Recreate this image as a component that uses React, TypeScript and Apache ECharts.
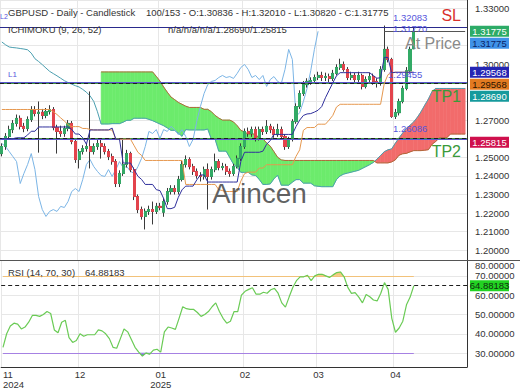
import React, { useEffect, useRef } from 'react';
import * as echarts from 'echarts';

const FONT = "'Liberation Sans', Arial, Helvetica, sans-serif";
const SLOT_COUNT = 127;

const opens = [1.2520,1.2558,1.2612,1.2649,1.2682,1.2709,1.2666,1.2655,1.2703,1.2757, 1.2736,1.2742,1.2725,1.2746,1.2757,1.2660,1.2639,1.2628,1.2655,1.2682, 1.2585,1.2488,1.2531,1.2547,1.2558,1.2531,1.2558,1.2574,1.2558,1.2531, 1.2504,1.2477,1.2359,1.2413,1.2461,1.2520,1.2434,1.2289,1.2219,1.2182, 1.2209,1.2219,1.2209,1.2236,1.2205,1.2262,1.2316,1.2332,1.2316,1.2381, 1.2461,1.2488,1.2450,1.2424,1.2402,1.2397,1.2434,1.2397,1.2434,1.2477, 1.2445,1.2450,1.2424,1.2413,1.2450,1.2494,1.2558,1.2639,1.2628,1.2649, 1.2601,1.2649,1.2639,1.2666,1.2649,1.2622,1.2649,1.2612,1.2558,1.2596, 1.2692,1.2773,1.2843,1.2891,1.2908,1.2913,1.2929,1.2940,1.2929,1.2934, 1.2924,1.2951,1.2983,1.2999,1.2972,1.2929,1.2940,1.2918,1.2940,1.2881, 1.2918,1.2934,1.2908,1.2897,1.2972,1.3080,1.3026,1.2720,1.2740,1.2800, 1.2870,1.2965,1.30836];
const highs = [1.2575,1.2630,1.2670,1.2700,1.2730,1.2725,1.2685,1.2720,1.2775,1.2775, 1.2800,1.2760,1.2765,1.2780,1.2770,1.2675,1.2670,1.2670,1.2700,1.2695, 1.2600,1.2545,1.2565,1.2575,1.2854,1.2575,1.2595,1.2596,1.2575,1.2545, 1.2520,1.2490,1.2430,1.2596,1.2540,1.2530,1.2445,1.2300,1.2235,1.2225, 1.2240,1.2262,1.2255,1.2255,1.2280,1.2335,1.2350,1.2350,1.2400,1.2480, 1.2510,1.2500,1.2465,1.2440,1.2420,1.2450,1.2467,1.2450,1.2520,1.2490, 1.2470,1.2465,1.2440,1.2465,1.2510,1.2575,1.2655,1.2660,1.2665,1.2665, 1.2665,1.2665,1.2700,1.2680,1.2665,1.2680,1.2665,1.2625,1.2610,1.2705, 1.2790,1.2860,1.2910,1.2925,1.2930,1.2945,1.2960,1.2960,1.2955,1.2950, 1.2970,1.3000,1.3030,1.3015,1.2985,1.2960,1.2955,1.2960,1.2950,1.2935, 1.2955,1.2950,1.2925,1.2990,1.32083,1.3095,1.3035,1.2760,1.2815,1.2885, 1.2985,1.3095,1.32010];
const lows = [1.2505,1.2540,1.2595,1.2630,1.2665,1.2650,1.2635,1.2640,1.2690,1.2720, 1.2525,1.2705,1.2710,1.2730,1.2645,1.2520,1.2610,1.2610,1.2640,1.2570, 1.2470,1.2440,1.2515,1.2530,1.2440,1.2515,1.2540,1.2493,1.2515,1.2485, 1.2460,1.2340,1.2340,1.2400,1.2445,1.2420,1.2270,1.2200,1.2165,1.2112, 1.2190,1.2139,1.2195,1.2215,1.2180,1.2245,1.2300,1.2300,1.2300,1.2370, 1.2445,1.2435,1.2405,1.2385,1.2370,1.2380,1.2219,1.2380,1.2420,1.2430, 1.2430,1.2405,1.2395,1.2400,1.2440,1.2480,1.2545,1.2610,1.2610,1.2585, 1.2590,1.2620,1.2625,1.2630,1.2605,1.2610,1.2595,1.2540,1.2545,1.2585, 1.2680,1.2760,1.2830,1.2875,1.2890,1.2895,1.2915,1.2910,1.2910,1.2905, 1.2910,1.2940,1.2970,1.2960,1.2915,1.2915,1.2900,1.2905,1.2865,1.2870, 1.2905,1.2890,1.2875,1.2885,1.2960,1.3010,1.2712,1.2706,1.2725,1.2790, 1.2860,1.2950,1.30820];
const closes = [1.2558,1.2612,1.2649,1.2682,1.2709,1.2666,1.2655,1.2703,1.2757,1.2736, 1.2742,1.2725,1.2746,1.2757,1.2660,1.2639,1.2628,1.2655,1.2682,1.2585, 1.2488,1.2531,1.2547,1.2558,1.2531,1.2558,1.2574,1.2558,1.2531,1.2504, 1.2477,1.2359,1.2413,1.2461,1.2520,1.2434,1.2289,1.2219,1.2182,1.2209, 1.2219,1.2209,1.2236,1.2230,1.2262,1.2316,1.2332,1.2316,1.2381,1.2461, 1.2488,1.2450,1.2424,1.2402,1.2397,1.2434,1.2397,1.2434,1.2477,1.2445, 1.2450,1.2424,1.2413,1.2450,1.2494,1.2558,1.2639,1.2628,1.2649,1.2601, 1.2649,1.2639,1.2666,1.2649,1.2622,1.2649,1.2612,1.2558,1.2596,1.2692, 1.2773,1.2843,1.2891,1.2908,1.2913,1.2929,1.2940,1.2929,1.2934,1.2924, 1.2951,1.2983,1.2999,1.2972,1.2929,1.2940,1.2918,1.2940,1.2881,1.2918, 1.2934,1.2908,1.2897,1.2972,1.3080,1.3026,1.2720,1.2740,1.2800,1.2870, 1.2965,1.3080,1.31775];

const tenkan = [1.2600,1.2600,1.2600,1.2600,1.2605,1.2605,1.2605,1.2620,1.2640,1.2640, 1.2663,1.2663,1.2663,1.2663,1.2663,1.2663,1.2663,1.2663,1.2663,1.2650, 1.2625,1.2625,1.2605,1.2570,1.2647,1.2647,1.2647,1.2647,1.2647,1.2647, 1.2657,1.2597,1.2597,1.2469,1.2469,1.2469,1.2433,1.2398,1.2381,1.2354, 1.2354,1.2354,1.2326,1.2321,1.2279,1.2224,1.2224,1.2231,1.2285,1.2325, 1.2345,1.2345,1.2345,1.2378,1.2405,1.2405,1.2367,1.2367,1.2367,1.2367, 1.2367,1.2367,1.2367,1.2367,1.2367,1.2478,1.2527,1.2527,1.2527,1.2527, 1.2527,1.2533,1.2570,1.2590,1.2623,1.2623,1.2623,1.2623,1.2623,1.2623, 1.2665,1.2700,1.2725,1.2733,1.2735,1.2743,1.2753,1.2773,1.2820,1.2860, 1.2900,1.2938,1.2955,1.2955,1.2955,1.2955,1.2955,1.2955,1.2955,1.2955, 1.2955,1.2940,1.2925,1.2928,1.3037,1.3037,1.2954,1.2957,1.2957,1.2957, 1.2957,1.2957,1.2957];
const kijun = [1.2757,1.2757,1.2757,1.2757,1.2757,1.2757,1.2757,1.2757,1.2757,1.2757, 1.2757,1.2757,1.2757,1.2757,1.2745,1.2730,1.2712,1.2695,1.2676,1.2665, 1.2665,1.2665,1.2655,1.2655,1.2650,1.2647,1.2647,1.2647,1.2647,1.2647, 1.2647,1.2597,1.2597,1.2597,1.2597,1.2597,1.2562,1.2527,1.2510,1.2483, 1.2483,1.2483,1.2483,1.2483,1.2483,1.2483,1.2483,1.2483,1.2483,1.2483, 1.2354,1.2354,1.2354,1.2354,1.2354,1.2354,1.2354,1.2354,1.2354,1.2326, 1.2321,1.2316,1.2316,1.2316,1.2316,1.2372,1.2412,1.2420,1.2420,1.2420, 1.2442,1.2442,1.2460,1.2460,1.2460,1.2460,1.2460,1.2460,1.2460,1.2460, 1.2505,1.2540,1.2645,1.2660,1.2660,1.2660,1.2678,1.2678,1.2678,1.2700, 1.2725,1.2770,1.2785,1.2785,1.2785,1.2785,1.2785,1.2785,1.2785,1.2785, 1.2785,1.2785,1.2785,1.2785,1.2897,1.2944,1.2954,1.2957,1.2957,1.2957, 1.2957,1.2957,1.2957];
const senkouA = [1.3120,1.3105,1.3093,1.3090,1.3088,1.3085,1.3082,1.3078,1.3060,1.3030, 1.3015,1.2998,1.2980,1.2962,1.2950,1.2938,1.2925,1.2912,1.2902,1.2893, 1.2885,1.2878,1.2865,1.2850,1.2830,1.2800,1.2745,1.2679,1.2679,1.2679, 1.2681,1.2681,1.2681,1.2689,1.2699,1.2699,1.2710,1.2710,1.2710,1.2710, 1.2704,1.2697,1.2688,1.2679,1.2670,1.2658,1.2645,1.2645,1.2630,1.2613, 1.2649,1.2647,1.2647,1.2647,1.2647,1.2647,1.2652,1.2597,1.2597,1.2533, 1.2533,1.2533,1.2498,1.2463,1.2446,1.2419,1.2419,1.2419,1.2405,1.2402, 1.2381,1.2354,1.2354,1.2357,1.2384,1.2404,1.2350,1.2350,1.2350,1.2366, 1.2380,1.2380,1.2361,1.2361,1.2361,1.2347,1.2344,1.2342,1.2342,1.2342, 1.2342,1.2380,1.2400,1.2410,1.2415,1.2420,1.2425,1.2430,1.2440,1.2450, 1.2460,1.2472,1.2490,1.2510,1.2530,1.2540,1.2545,1.2575,1.2604,1.2630, 1.2655,1.2672,1.2690,1.2715,1.2745,1.2780,1.2813,1.2854,1.2870,1.2870, 1.2870,1.2870,1.2870,1.2870,1.2870,1.2870,1.2870];
const senkouB = [null,null,null,null,null,null,null,null,null,null, null,null,null,null,null,null,null,null,null,null, null,null,null,null,null,null,null,1.2959,1.2959,1.2959, 1.2959,1.2959,1.2959,1.2959,1.2959,1.2959,1.2959,1.2959,1.2959,1.2959, 1.2959,1.2959,1.2935,1.2910,1.2878,1.2850,1.2824,1.2810,1.2795,1.2785, 1.2775,1.2768,1.2768,1.2768,1.2768,1.2758,1.2758,1.2745,1.2725,1.2711, 1.2700,1.2700,1.2700,1.2690,1.2670,1.2645,1.2636,1.2625,1.2625,1.2625, 1.2600,1.2600,1.2577,1.2560,1.2530,1.2500,1.2486,1.2483,1.2483,1.2483, 1.2483,1.2483,1.2483,1.2483,1.2483,1.2483,1.2483,1.2483,1.2483,1.2483, 1.2483,1.2483,1.2483,1.2483,1.2483,1.2483,1.2483,1.2483,1.2483,1.2483, 1.2483,1.2483,1.2470,1.2470,1.2470,1.2470,1.2475,1.2486,1.2511,1.2519, 1.2521,1.2529,1.2536,1.2536,1.2536,1.2538,1.2541,1.2570,1.2585,1.2605, 1.2605,1.2605,1.2625,1.2625,1.2625,1.2625,1.2625];
const rsiValues = [33,40,44,45.5,45,42.5,43.5,46,49.5,49.5, 49,50,51.5,50.5,42,40.5,46,47,38,35.5, 36.5,40,38.7,39.5,39.5,39.5,42,41.5,40,37.5, 33,32.5,37.5,42.5,41,37,33,30.5,28.5,30, 29.5,31.5,32,30.5,41,43.5,43,42.3,48,54, 53,52.6,52.6,51,49,50,51.5,54,56,51.5, 48,45.5,46.5,51.5,51.5,60,62,63,63.8,60.5, 60.5,61.5,61,62.8,63.5,61,56,53.8,59,64, 67.5,69.5,69.5,70.3,67.5,70,70.8,70.8,70,69.2, 70.5,71.7,72,69.5,64,60.9,61.3,59,56,60.3, 59.2,57.5,57,61,66.5,63,48,40.8,43,46.5, 55,59,64.88183];

const CHIKOU_SHIFT = 26;
const AT_PRICE_START = 104;
const levelValues = [1.32083, 1.29455, 1.2912, 1.2900, 1.2866, 1.2625, 1.2608, 1.2578];
const levelKinds = ['sl', 'dash', 'blue', 'green', 'dash', 'blue', 'green', 'dash'];
const atPriceLevel = 1.3177;
const priceTags = [1.31775, 1.31775, 1.29568, 1.29568, 1.28690, 1.25815];
const rsiLevels = [70, 30];
const rsiTag = 64.88183;
const priceRange = [1.19478, 1.33457];
const rsiRange = [22.8, 78.2];

function buildDates(): string[] {
  const out: string[] = [];
  let t = Date.UTC(2024, 10, 1);
  while (out.length < SLOT_COUNT) {
    const d = new Date(t);
    const wd = d.getUTCDay();
    if (wd !== 0 && wd !== 6) out.push(d.toISOString().slice(0, 10));
    t += 86400000;
  }
  return out;
}

function fillSeries(up: any, lo: any, posColor: string | null, negColor: string | null, xi: number, yi: number, z: number) {
  const n = Array.isArray(up) ? up.length : lo.length;
  const get = (a: any, i: number) => (typeof a === 'number' ? a : a[i]);
  const data: number[][] = [];
  for (let i = 0; i < n - 1; i++) {
    const a0 = get(up, i), b0 = get(lo, i), a1 = get(up, i + 1), b1 = get(lo, i + 1);
    if (a0 == null || b0 == null || a1 == null || b1 == null) continue;
    data.push([i, a0, b0, a1, b1]);
  }
  return {
    type: 'custom', xAxisIndex: xi, yAxisIndex: yi, z, silent: true, clip: true,
    data, encode: { x: 0, y: [1, 2] },
    renderItem: (params: any, api: any) => {
      const i = api.value(0);
      const a0 = api.value(1), b0 = api.value(2), a1 = api.value(3), b1 = api.value(4);
      const pa0 = api.coord([i, a0]), pb0 = api.coord([i, b0]);
      const pa1 = api.coord([i + 1, a1]), pb1 = api.coord([i + 1, b1]);
      const d0 = a0 - b0, d1 = a1 - b1;
      const children: any[] = [];
      const poly = (pts: number[][], d: number) => {
        if (d === 0) return;
        const c = d > 0 ? posColor : negColor;
        if (!c) return;
        children.push({ type: 'polygon', shape: { points: pts }, style: { fill: c, stroke: c, lineWidth: 0.6 } });
      };
      if (d0 * d1 >= 0) poly([pa0, pa1, pb1, pb0], d0 + d1);
      else {
        const t = d0 / (d0 - d1);
        const pm = [pa0[0] + (pa1[0] - pa0[0]) * t, pa0[1] + (pa1[1] - pa0[1]) * t];
        poly([pa0, pm, pb0], d0);
        poly([pm, pa1, pb1], d1);
      }
      return { type: 'group', children };
    },
  };
}

export default function App() {
  const ref = useRef<HTMLDivElement>(null);
  useEffect(() => {
    const chart = echarts.init(ref.current as HTMLDivElement, null, { renderer: 'svg' });
    const dates = buildDates();
    const monthStart = (idx: number) => idx === 0 || dates[idx].slice(5, 7) !== dates[idx - 1].slice(5, 7);
    const monthLabel = (value: string, idx: number) => {
      const m = value.slice(5, 7);
      return idx === 0 || m === '01' ? `${m}\n${value.slice(0, 4)}` : m;
    };
    const isCent = (v: number) => Math.abs(v * 100 - Math.round(v * 100)) < 1e-6;
    const gridLine = { lineStyle: { color: '#e7e7e7', width: 1 } };
    const dash = { color: '#1e1e1e', width: 1, type: [4, 3] };
    const levelStyle: any = {
      sl: { color: '#2a2a8c', width: 1.2, type: 'solid' },
      dash,
      blue: { color: '#5858d0', width: 2, type: 'solid' },
      green: { color: '#3c8f3c', width: 1, type: 'solid' },
    };
    const last = closes.length - 1;

    const candleFull = closes.map((c, i) => [opens[i], c, lows[i], highs[i]]);
    const candleBody = closes.map((c, i) => [opens[i], c, Math.min(opens[i], c), Math.max(opens[i], c)]);
    const chikou = closes.slice(CHIKOU_SHIFT);
    const priceLabelStyle = { fontSize: 9.5, color: '#333', margin: 8, fontFamily: FONT };

    const option: any = {
      animation: false,
      backgroundColor: '#ffffff',
      textStyle: { fontFamily: FONT },
      grid: [
        { left: 0, top: 0, width: 467, height: 260 },
        { left: 0, top: 260, width: 467, height: 108 },
      ],
      xAxis: [
        {
          type: 'category', gridIndex: 0, data: dates, boundaryGap: true,
          axisLine: { show: false }, axisTick: { show: false }, axisLabel: { show: false },
          splitLine: { show: true, interval: monthStart, ...gridLine },
        },
        {
          type: 'category', gridIndex: 1, data: dates, boundaryGap: true,
          axisLine: { show: true, lineStyle: { color: '#333', width: 1 } }, axisTick: { show: false },
          axisLabel: { interval: monthStart, formatter: monthLabel, fontSize: 9.5, color: '#333', margin: 2, lineHeight: 10.5, alignMinLabel: 'left', fontFamily: FONT },
          splitLine: { show: true, interval: monthStart, ...gridLine },
        },
      ],
      yAxis: [
        {
          type: 'value', gridIndex: 0, position: 'right', min: priceRange[0], max: priceRange[1], splitNumber: 14,
          axisLine: { show: true, lineStyle: { color: '#333', width: 1 } }, axisTick: { show: false },
          splitLine: { show: true, ...gridLine },
          axisLabel: { formatter: (v: number) => (isCent(v) ? v.toFixed(5) : ''), ...priceLabelStyle },
        },
        {
          type: 'value', gridIndex: 1, position: 'right', min: rsiRange[0], max: rsiRange[1], splitNumber: 5,
          axisLine: { show: true, lineStyle: { color: '#333', width: 1 } }, axisTick: { show: false },
          splitLine: { show: true, ...gridLine },
          axisLabel: {
            formatter: (v: number) => (Math.abs(v - rsiRange[1]) < 1e-6 ? '80.00000' : Math.abs(v - rsiRange[0]) < 1e-6 ? '20.00000' : v.toFixed(5)),
            fontSize: 9.5, color: '#333', margin: 8, fontFamily: FONT,
            verticalAlignMaxLabel: 'top', verticalAlignMinLabel: 'bottom',
          },
        },
      ],
      series: [
        fillSeries(senkouA, senkouB, '#f26b6b', '#6ceb6c', 0, 0, 1),
        {
          type: 'line', name: 'senkouA', xAxisIndex: 0, yAxisIndex: 0, data: senkouA, symbol: 'none', z: 2,
          lineStyle: { color: '#4b9fb0', width: 1 }, silent: true,
        },
        {
          type: 'line', name: 'senkouB', xAxisIndex: 0, yAxisIndex: 0, data: senkouB, symbol: 'none', z: 2,
          lineStyle: { color: '#b0683a', width: 1 }, silent: true,
        },
        {
          type: 'line', name: 'chikou', xAxisIndex: 0, yAxisIndex: 0, data: chikou, symbol: 'none', z: 2,
          lineStyle: { color: '#7bb5e6', width: 1 }, silent: true,
        },
        {
          type: 'candlestick', xAxisIndex: 0, yAxisIndex: 0, data: candleFull, barWidth: 2.6, z: 3, silent: true,
          itemStyle: { color: '#3a3a3a', color0: '#3a3a3a', borderColor: '#3a3a3a', borderColor0: '#3a3a3a', borderColorDoji: '#3a3a3a', borderWidth: 1 },
        },
        {
          type: 'candlestick', xAxisIndex: 0, yAxisIndex: 0, data: candleBody, barWidth: 2.6, z: 4, silent: true,
          itemStyle: { color: '#33aa66', color0: '#e3434c', borderColor: '#33aa66', borderColor0: '#e3434c', borderColorDoji: '#33aa66', borderWidth: 1 },
        },
        {
          type: 'line', name: 'kijun', xAxisIndex: 0, yAxisIndex: 0, data: kijun, symbol: 'none', z: 5,
          lineStyle: { color: '#e6984f', width: 1 }, silent: true,
        },
        {
          type: 'line', name: 'tenkan', xAxisIndex: 0, yAxisIndex: 0, data: tenkan, symbol: 'none', z: 5,
          lineStyle: { color: '#2f2f9c', width: 1 }, silent: true,
          markLine: {
            symbol: ['none', 'none'], silent: true, label: { show: false }, animation: false,
            data: [
              ...levelValues.map((v, k) => ({ yAxis: v, lineStyle: levelStyle[levelKinds[k]] })),
              [
                { coord: [dates[AT_PRICE_START], atPriceLevel], lineStyle: { color: '#555', width: 1, type: 'solid' } },
                { coord: [dates[SLOT_COUNT - 1], atPriceLevel], lineStyle: { color: '#555', width: 1, type: 'solid' } },
              ],
            ],
          },
        },
        fillSeries(rsiValues, rsiLevels[0], '#f4c97c', null, 1, 1, 2),
        fillSeries(rsiLevels[1], rsiValues, '#5a7fd2', null, 1, 1, 2),
        {
          type: 'line', name: 'rsi', xAxisIndex: 1, yAxisIndex: 1, data: rsiValues, symbol: 'none', z: 5,
          lineStyle: { color: '#6acb55', width: 1.2 }, silent: true,
          markLine: {
            symbol: ['none', 'none'], silent: true, label: { show: false }, animation: false,
            data: [
              [
                { coord: [dates[0], rsiLevels[0]], lineStyle: { color: '#f2c27a', width: 1.2, type: 'solid' } },
                { coord: [dates[last], rsiLevels[0]], lineStyle: { color: '#f2c27a', width: 1.2, type: 'solid' } },
              ],
              [
                { coord: [dates[0], rsiLevels[1]], lineStyle: { color: '#a681e3', width: 1.2, type: 'solid' } },
                { coord: [dates[last], rsiLevels[1]], lineStyle: { color: '#a681e3', width: 1.2, type: 'solid' } },
              ],
              { yAxis: rsiTag, lineStyle: dash },
            ],
          },
        },
      ],
    };
    chart.setOption(option);

    const yP = (v: number) => chart.convertToPixel({ yAxisIndex: 0 }, v) as number;
    const yR = (v: number) => chart.convertToPixel({ yAxisIndex: 1 }, v) as number;
    const txt = (text: string, x: number, y: number, size: number, fill: string, align = 'left', extra: any = {}) => ({
      type: 'text', x, y, z: 100, silent: true,
      style: { text, fill, font: `${size}px ${FONT}`, align, textAlign: align, verticalAlign: 'middle', textVerticalAlign: 'middle', ...extra },
    });
    const tag = (v: number, cy: number, bg: string, fg: string) => [
      { type: 'rect', z: 101, silent: true, shape: { x: 470, y: cy - 5.5, width: 39, height: 11 }, style: { fill: bg } },
      { ...txt(v.toFixed(5), 489.5, cy, 9.5, fg, 'center'), z: 102 },
    ];

    const tagStyles = [
      { bg: '#2dab67', fg: '#ffffff' },
      { bg: '#3f92e8', fg: '#0b1f66' },
      { bg: '#2525b3', fg: '#ffffff' },
      { bg: '#e27b21', fg: '#2b1400' },
      { bg: '#169a9c', fg: '#ffffff' },
      { bg: '#cf104d', fg: '#ffffff' },
    ];
    const elements: any[] = [];
    const tagCenters: number[] = [];
    let prev = -1e9;
    priceTags.forEach((v, k) => {
      const cy = Math.max(yP(v), prev + 12);
      prev = cy;
      tagCenters.push(cy);
      elements.push(...tag(v, cy, tagStyles[k].bg, tagStyles[k].fg));
    });
    elements.push(...tag(rsiTag, yR(rsiTag), '#22d322', '#0f2f0f'));

    const blueTxt = '#5656dc';
    const ySL = yP(levelValues[0]);
    elements.push(
      txt('SL', 461, ySL - 10.5, 16, '#d9302c', 'right'),
      txt('L2', 0, ySL - 9, 7, blueTxt),
      txt(levelValues[0].toFixed(5), 393, ySL - 8, 9.5, blueTxt),
      txt(atPriceLevel.toFixed(5), 393, yP(atPriceLevel) - 3, 9.5, blueTxt),
      txt('At Price', 461, yP(atPriceLevel) + 12.5, 16, '#8a8a8a', 'right'),
      txt('L1', 8, yP(levelValues[1]), 8, blueTxt),
      txt(levelValues[1].toFixed(5), 388, yP(levelValues[1]), 9.5, blueTxt),
      txt('TP1', 461, yP(levelValues[3]) + 13.5, 16, '#3a9a3a', 'right'),
      txt('1.26086', 393, yP(levelValues[5]) - 6, 9.5, blueTxt),
      txt('TP2', 461, yP(levelValues[7]) + 8.5, 16, '#3a9a3a', 'right'),
      txt('Arincen', 212, 193, 28, 'rgba(70,70,70,0.85)'),
      txt('GBPUSD - Daily - Candlestick', 8, 12, 9.5, '#333'),
      txt(`100/153 - O:${opens[last].toFixed(5)} - H:${highs[last].toFixed(5)} - L:${lows[last].toFixed(5)} - C:${closes[last].toFixed(5)}`, 146, 12, 9.5, '#333'),
      txt('ICHIMOKU (9, 26, 52)', 8, 29, 9.5, '#333'),
      txt(`n/a/n/a/n/a/${priceTags[4].toFixed(5)}/${priceTags[5].toFixed(5)}`, 168, 29, 9.5, '#333'),
      txt('RSI (14, 70, 30)', 8, 272, 9.5, '#333'),
      txt(rsiTag.toFixed(5), 85, 272, 9.5, '#333'),
      { type: 'line', z: 99, silent: true, shape: { x1: 0, y1: 260.5, x2: 520, y2: 260.5 }, style: { stroke: '#555', lineWidth: 1 } },
    );
    chart.setOption({
      yAxis: [
        {
          axisLabel: {
            formatter: (v: number) => {
              if (!isCent(v)) return '';
              const y = yP(v);
              return tagCenters.some((c) => Math.abs(c - y) < 7.5) ? '' : v.toFixed(5);
            },
            ...priceLabelStyle,
          },
        },
        {},
      ],
      graphic: { elements },
    });

    return () => chart.dispose();
  }, []);
  return <div ref={ref} style={{ position: 'fixed', left: 0, top: 0, width: 520, height: 390 }} />;
}
